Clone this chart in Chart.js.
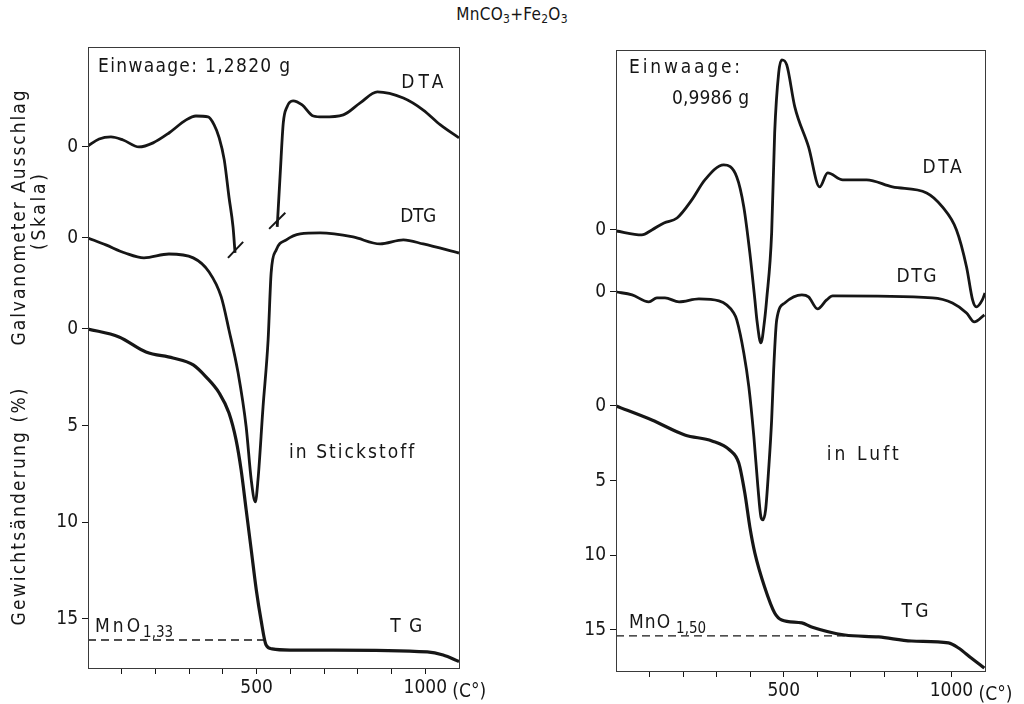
<!DOCTYPE html>
<html>
<head>
<meta charset="utf-8">
<title>MnCO3 + Fe2O3</title>
<script src="https://cdn.jsdelivr.net/npm/chart.js@4.4.0/dist/chart.umd.min.js"></script>
<style>
  body { margin: 0; background: #fff; }
  #wrap { position: relative; width: 1024px; height: 704px; overflow: hidden; }
  #wrap canvas { position: absolute; top: 0; }
  #left { left: 0; }
  #right { left: 512px; }
  #title {
    position: absolute; top: 4px; left: 0; width: 1024px; text-align: center;
    font: 17px 'DejaVu Sans Condensed', 'DejaVu Sans', sans-serif;
    letter-spacing: 0.3px; color: #161616;
  }
  #title sub { font-size: 12px; vertical-align: -3px; }
</style>
</head>
<body>
<div id="wrap">
  <div id="title">MnCO<sub>3</sub>+Fe<sub>2</sub>O<sub>3</sub></div>
  <canvas id="left" width="512" height="704"></canvas>
  <canvas id="right" width="512" height="704"></canvas>
</div>
<script>
const FONT = "'DejaVu Sans Condensed', 'DejaVu Sans', sans-serif";
const INK = '#161616';

// temperature axis (°C), same for both panels
const TEMP_MIN = 0;
const TEMP_MAX = 1100;
const TEMP_TICKS = [100, 200, 300, 400, 500, 600, 700, 800, 900, 1000];
const TEMP_LABELS = [500, 1000];
const TG_TICKS = [0, 5, 10, 15];

// ---- left panel: in Stickstoff ----
// DTA / DTG are deflections (up = positive) around their own "0" line,
// the zero lines sit on the TG % scale
const N2_DTA_ZERO = -9.42;
const N2_DTG_ZERO = -4.71;
const N2_Y_RANGE = [-14.59, 17.54];

const N2_DTA_T = [0, 33, 68, 104, 151, 193, 240, 291, 320, 356, 374, 389, 404, 418, 430, 436,
  500, 561, 570, 579, 590, 608, 635, 668, 697, 757, 807, 858, 935, 994, 1045, 1100];
const N2_DTA = [0.05, 0.41, 0.52, 0.36, 0, 0.21, 0.72, 1.40, 1.60, 1.55, 1.14, 0.47, -0.67, -2.59, -4.14, -5.48,
  null, -4.14, -1.35, 1.24, 2.07, 2.38, 2.17, 1.60, 1.55, 1.66, 2.28, 2.85, 2.53, 1.91, 1.14, 0.47];

const N2_DTG_T = [0, 53, 110, 166, 240, 312, 359, 395, 418, 445, 469, 484, 496, 504, 519, 534, 543,
  558, 588, 629, 688, 786, 866, 935, 994, 1100];
const N2_DTG = [0, -0.36, -0.78, -1.03, -0.83, -1.03, -1.76, -3.05, -4.76, -6.98, -9.78, -12.52, -13.66,
  -12.52, -8.74, -5.28, -1.81, -0.62, -0.10, 0.21, 0.26, 0.05, -0.31, -0.10, -0.31, -0.78];

const N2_TG_T = [0, 92, 172, 252, 312, 350, 389, 418, 439, 454, 469, 484, 499, 513, 528, 546, 599,
  727, 1006, 1053, 1100];
const N2_TG = [0, 0.41, 1.19, 1.50, 1.86, 2.48, 3.31, 4.35, 5.74, 7.29, 9.36, 11.43, 13.50, 15.05,
  16.35, 16.55, 16.61, 16.61, 16.71, 16.87, 17.20];

const N2_MNO = 16.09;          // MnO1,33 level
const N2_MNO_END = 525;
// the two small strokes across the DTA curve (DTA units)
const N2_MARK_T = [[415, 460], [537, 585]];
const N2_MARK = [[-5.74, -4.91], [-4.24, -3.41]];

// ---- right panel: in Luft ----
const AIR_DTA_ZERO = -11.79;
const AIR_DTG_ZERO = -7.64;
const AIR_Y_RANGE = [-23.84, 17.75];

const AIR_DTA_T = [0, 77, 107, 143, 182, 226, 265, 321, 360, 381, 399, 414, 420, 432, 443, 449, 464,
  473, 485, 494, 509, 533, 574, 607, 631, 676, 747, 824, 926, 973, 1015, 1045, 1063, 1074, 1092, 1100];
const AIR_DTA = [-0.07, -0.33, 0, 0.47, 0.80, 2.01, 3.35, 4.35, 3.55, 1.54, -1.54, -4.69, -6.03, -7.57,
  -6.03, -4.69, -0.20, 6.50, 10.52, 11.39, 11.05, 8.24, 5.56, 2.88, 3.82, 3.35, 3.35, 2.88, 2.48, 1.54,
  0, -2.48, -4.69, -5.16, -4.69, -4.22];

const AIR_DTG_T = [0, 48, 98, 122, 146, 188, 247, 307, 351, 360, 381, 396, 411, 423, 432, 438, 446, 455,
  464, 470, 479, 503, 554, 574, 601, 628, 646, 943, 1003, 1045, 1068, 1098];
const AIR_DTG = [0, -0.20, -0.67, -0.40, -0.40, -0.67, -0.47, -0.60, -1.41, -1.88, -4.09, -6.36, -9.71,
  -13.06, -15.07, -15.27, -14.60, -11.92, -8.57, -5.22, -1.88, -0.74, -0.20, -0.33, -1.14, -0.54, -0.27,
  -0.40, -0.74, -1.41, -2.01, -1.54];

const AIR_TG_T = [0, 107, 205, 286, 339, 366, 384, 399, 414, 443, 473, 494, 554, 583, 682, 783, 881,
  991, 1021, 1060, 1098];
const AIR_TG = [0, 0.94, 1.94, 2.34, 2.95, 3.82, 5.83, 8.10, 9.85, 12.12, 13.86, 14.33, 14.53, 14.80,
  15.34, 15.47, 15.74, 15.87, 16.21, 16.90, 17.55];

const AIR_MNO = 15.40;         // MnO1,50 level
const AIR_MNO_END = 682;

// draw text, stretched with letter spacing to a given width; returns end x
function spaced(ctx, text, x, y, width) {
  ctx.letterSpacing = '0px';
  const w = ctx.measureText(text).width;
  let s = 0;
  if (width && text.length > 1) s = (width - w) / (text.length - 1);
  ctx.letterSpacing = s + 'px';
  ctx.fillText(text, x, y);
  ctx.letterSpacing = '0px';
  return x + w + s * (text.length - 1);
}

const paperPlugin = {
  id: 'paper',
  afterDraw(chart, args, opts) {
    const { ctx, chartArea: a, scales: { x, y } } = chart;
    ctx.save();
    ctx.strokeStyle = '#3a3a3a';
    ctx.lineWidth = 1;
    ctx.strokeRect(Math.round(a.left) + 0.5, Math.round(a.top) + 0.5, Math.round(a.width), Math.round(a.height));

    ctx.fillStyle = INK;
    ctx.textAlign = 'left';
    ctx.textBaseline = 'alphabetic';
    opts.notes.forEach(n => {
      ctx.font = (n.size || 19) + 'px ' + FONT;
      const px = x.getPixelForValue(n.t);
      const py = y.getPixelForValue(n.v);
      const end = spaced(ctx, n.text, px, py, n.width);
      if (n.sub) {
        ctx.font = '15px ' + FONT;
        spaced(ctx, n.sub, end + (n.subGap || 3), py + 5);
      }
    });

    // unit after the 1000 tick label
    ctx.font = '19px ' + FONT;
    spaced(ctx, '(C°)', x.getPixelForValue(1000) + 27, x.top + 29, 34);

    // rotated axis titles (pixel positions in the canvas)
    opts.titles.forEach(t => {
      ctx.save();
      ctx.translate(t.x, t.y);
      ctx.rotate(-Math.PI / 2);
      ctx.font = '19px ' + FONT;
      spaced(ctx, t.text, -t.width / 2, 0, t.width);
      ctx.restore();
    });
    ctx.restore();
  }
};

function pts(ts, vs, f) {
  return ts.map((t, i) => ({ x: t, y: vs[i] === null ? null : f(vs[i]) }));
}

function curve(data, width) {
  return {
    data: data,
    borderColor: INK,
    borderWidth: width,
    pointRadius: 0,
    cubicInterpolationMode: 'monotone',
    spanGaps: false,
    fill: false
  };
}

function makePanel(canvasId, p) {
  const dta = v => p.dtaZero - v;
  const dtg = v => p.dtgZero - v;
  const datasets = [
    curve(pts(p.dtaT, p.dta, dta), 2.8),
    curve(pts(p.dtgT, p.dtg, dtg), 2.8),
    curve(pts(p.tgT, p.tg, v => v), 3.2),
    {
      data: [{ x: TEMP_MIN, y: p.mno }, { x: p.mnoEnd, y: p.mno }],
      borderColor: INK, borderWidth: 1.4, borderDash: [8, 5], pointRadius: 0
    }
  ];
  (p.markT || []).forEach((mt, i) => {
    datasets.push({
      data: pts(mt, p.mark[i], dta),
      borderColor: INK, borderWidth: 2, pointRadius: 0
    });
  });

  const yTicks = [p.dtaZero, p.dtgZero].concat(TG_TICKS);

  return new Chart(document.getElementById(canvasId), {
    type: 'line',
    data: { datasets: datasets },
    plugins: [paperPlugin],
    options: {
      responsive: false,
      animation: false,
      events: [],
      layout: { padding: p.padding },
      plugins: {
        legend: { display: false },
        tooltip: { enabled: false },
        paper: { notes: p.notes, titles: p.titles }
      },
      scales: {
        x: {
          type: 'linear',
          min: TEMP_MIN,
          max: TEMP_MAX,
          afterBuildTicks: axis => { axis.ticks = TEMP_TICKS.map(v => ({ value: v })); },
          afterFit: s => { s.height = p.xHeight; },
          grid: { drawOnChartArea: false, tickLength: 6, color: INK, lineWidth: 1 },
          border: { display: true, color: '#3a3a3a' },
          ticks: {
            autoSkip: false, maxRotation: 0, padding: 3, color: INK,
            font: { family: FONT, size: 19 },
            callback: v => TEMP_LABELS.includes(v) ? String(v) : ''
          }
        },
        y: {
          type: 'linear',
          reverse: true,
          min: p.yRange[0],
          max: p.yRange[1],
          afterBuildTicks: axis => { axis.ticks = yTicks.map(v => ({ value: v })); },
          afterFit: s => { s.width = p.yWidth; },
          grid: { drawOnChartArea: false, tickLength: 6, color: INK, lineWidth: 1 },
          border: { display: true, color: '#3a3a3a' },
          ticks: {
            autoSkip: false, padding: 4, color: INK,
            font: { family: FONT, size: 19 },
            callback: v => (v === p.dtaZero || v === p.dtgZero) ? '0' : String(v)
          }
        }
      }
    }
  });
}

Chart.defaults.font.family = FONT;

makePanel('left', {
  dtaZero: N2_DTA_ZERO, dtgZero: N2_DTG_ZERO, yRange: N2_Y_RANGE,
  dtaT: N2_DTA_T, dta: N2_DTA, dtgT: N2_DTG_T, dtg: N2_DTG, tgT: N2_TG_T, tg: N2_TG,
  mno: N2_MNO, mnoEnd: N2_MNO_END, markT: N2_MARK_T, mark: N2_MARK,
  padding: { top: 47, right: 53, bottom: 0, left: 0 },
  yWidth: 88, xHeight: 36,
  notes: [
    { text: 'Einwaage: 1,2820 g', t: 30, v: -13.30, width: 192 },
    { text: 'DTA', t: 929, v: -12.47, width: 42 },
    { text: 'DTG', t: 926, v: -5.54, width: 36 },
    { text: 'in Stickstoff', t: 596, v: 6.67, width: 125 },
    { text: 'TG', t: 896, v: 15.68, width: 32 },
    { text: 'MnO', t: 21, v: 15.68, width: 45, sub: '1,33' }
  ],
  titles: [
    { text: 'Galvanometer Ausschlag', x: 25, y: 218, width: 255 },
    { text: '(Skala)', x: 45, y: 212, width: 76 },
    { text: 'Gewichtsänderung (%)', x: 25, y: 507, width: 237 }
  ]
});

makePanel('right', {
  dtaZero: AIR_DTA_ZERO, dtgZero: AIR_DTG_ZERO, yRange: AIR_Y_RANGE,
  dtaT: AIR_DTA_T, dta: AIR_DTA, dtgT: AIR_DTG_T, dtg: AIR_DTG, tgT: AIR_TG_T, tg: AIR_TG,
  mno: AIR_MNO, mnoEnd: AIR_MNO_END,
  padding: { top: 50, right: 39, bottom: 0, left: 0 },
  yWidth: 104, xHeight: 33,
  notes: [
    { text: 'Einwaage:', t: 39, v: -22.30, width: 111 },
    { text: '0,9986 g', t: 167, v: -20.23, width: 77 },
    { text: 'DTA', t: 914, v: -15.61, width: 39 },
    { text: 'DTG', t: 836, v: -8.31, width: 40 },
    { text: 'in Luft', t: 628, v: 3.62, width: 72 },
    { text: 'TG', t: 851, v: 14.13, width: 27 },
    { text: 'MnO', t: 39, v: 14.87, width: 41, sub: '1,50', subGap: 6 }
  ],
  titles: []
});
</script>
</body>
</html>
